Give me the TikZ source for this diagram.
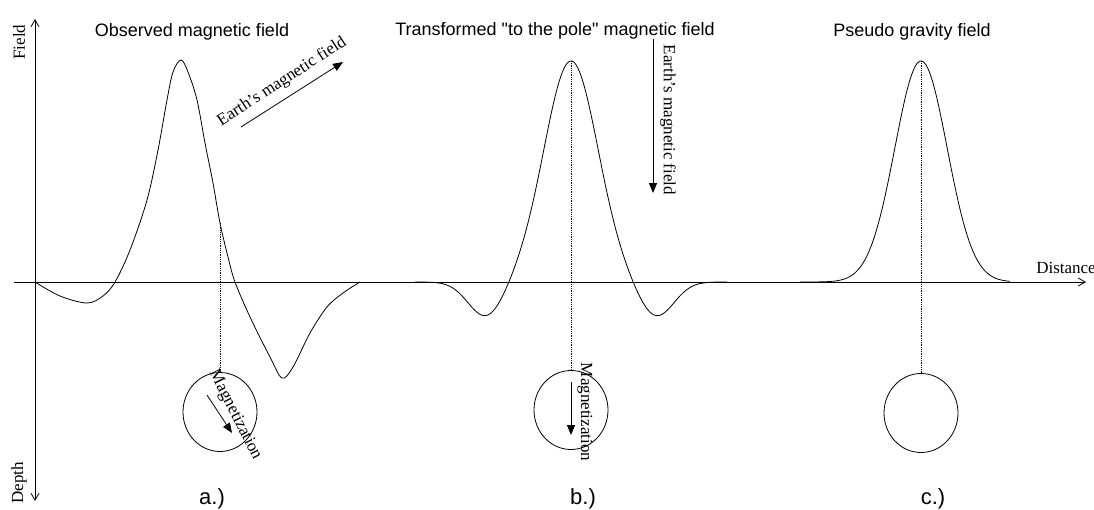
\documentclass[tikz,border=0pt]{standalone}
\usepackage{fontspec}
\setmainfont{Liberation Serif}
\setsansfont{Liberation Sans}
\usetikzlibrary{arrows.meta,shapes.geometric}
\tikzset{
  curve/.style={draw, line width=0.8pt},
  axis/.style={draw, line width=0.8pt},
  guide/.style={draw, densely dotted, line width=0.8pt},
  body/.style={draw, ellipse, line width=0.8pt, minimum width=74pt,
               minimum height=79pt, inner sep=0pt},
  vec/.style={-{Triangle[length=10pt,width=8pt]}, line width=0.8pt},
  ttl/.style={font=\sffamily\fontsize{18}{20}\selectfont, inner sep=0pt},
  tag/.style={font=\sffamily\fontsize{22}{24}\selectfont, inner sep=0pt},
  lbl/.style={font=\fontsize{17}{19}\selectfont, inner sep=0pt},
}

\begin{document}
\begin{tikzpicture}[x=1pt, y=-1pt]
  \useasboundingbox (0,0) rectangle (1094,509);
  % axes
  \coordinate (fieldtip) at (35,19);
  \coordinate (depthtip) at (35,501);
  \coordinate (xstart) at (14,282);
  \coordinate (xtip) at (1086,282);
  \draw[axis, {Straight Barb[length=7pt,width=8pt]}-{Straight Barb[length=7pt,width=8pt]}] (fieldtip) -- (depthtip);
  \draw[axis, -{Straight Barb[length=7pt,width=8pt]}] (xstart) -- (xtip);
  \node[lbl, rotate=90] (field) at (19,42) {Field};
  \node[lbl, rotate=90] (depth) at (19,483) {Depth};
  \node[lbl] (distance) at (1066,268) {Distance};
  % a.) observed field
  \draw[curve] plot[smooth, tension=0.55] coordinates {(35,282) (60,296) (87,303) (103,296)
    (115,282) (130,250) (147,200) (158,150) (167,100) (173,72) (181,60) (188,72) (197,100)
    (205,143) (213,183) (220,223) (228,257) (235,282) (250,317) (270,357) (282,378) (293,367)
    (310,333) (327,307) (343,293) (360,282)};
  \coordinate (cuta) at (220,223);
  \node[body] (bodya) at (220,412) {};
  \draw[guide] (cuta) -- (bodya.north);
  \coordinate (emafrom) at (241,127);
  \coordinate (emato) at (343,62);
  \draw[vec] (emafrom) -- (emato);
  \node[lbl, rotate=33] (emalbl) at (282,82) {Earth's magnetic field};
  \coordinate (magafrom) at (207,395);
  \coordinate (magato) at (232,433);
  \draw[vec] (magafrom) -- (magato);
  \node[lbl, rotate=-63] (magalbl) at (235,415) {Magnetization};
  \node[ttl] (titlea) at (192,32) {Observed magnetic field};
  \node[tag] (taga) at (212,499) {a.)};
  % b.) reduced to the pole
  \draw[curve] plot[domain=415:727, samples=200]
    (\x, {282 - 221*exp(-((\x-571)/38)^2) + 35*exp(-((abs(\x-571)-85)/25)^2)});
  \coordinate (peakb) at (571,61);
  \node[body] (bodyb) at (571,410) {};
  \draw[guide] (peakb) -- (bodyb.north);
  \coordinate (embfrom) at (653,39);
  \coordinate (embto) at (653,193);
  \draw[vec] (embfrom) -- (embto);
  \node[lbl, rotate=-90] (emblbl) at (668,120) {Earth's magnetic field};
  \coordinate (magbfrom) at (571,382);
  \coordinate (magbto) at (571,435);
  \draw[vec] (magbfrom) -- (magbto);
  \node[lbl, rotate=-90] (magblbl) at (585,412) {Magnetization};
  \node[ttl] (titleb) at (555,31) {Transformed \textquotedbl to the pole\textquotedbl{} magnetic field};
  \node[tag] (tagb) at (583,499) {b.)};
  % c.) pseudo gravity
  \draw[curve] plot[domain=800:1010, samples=150]
    (\x, {282 - 221*exp(-((\x-921)/37)^2)});
  \coordinate (peakc) at (921,61);
  \node[body] (bodyc) at (921,413) {};
  \draw[guide] (peakc) -- (bodyc.north);
  \node[ttl] (titlec) at (912,32) {Pseudo gravity field};
  \node[tag] (tagc) at (933,499) {c.)};
\end{tikzpicture}
\end{document}
